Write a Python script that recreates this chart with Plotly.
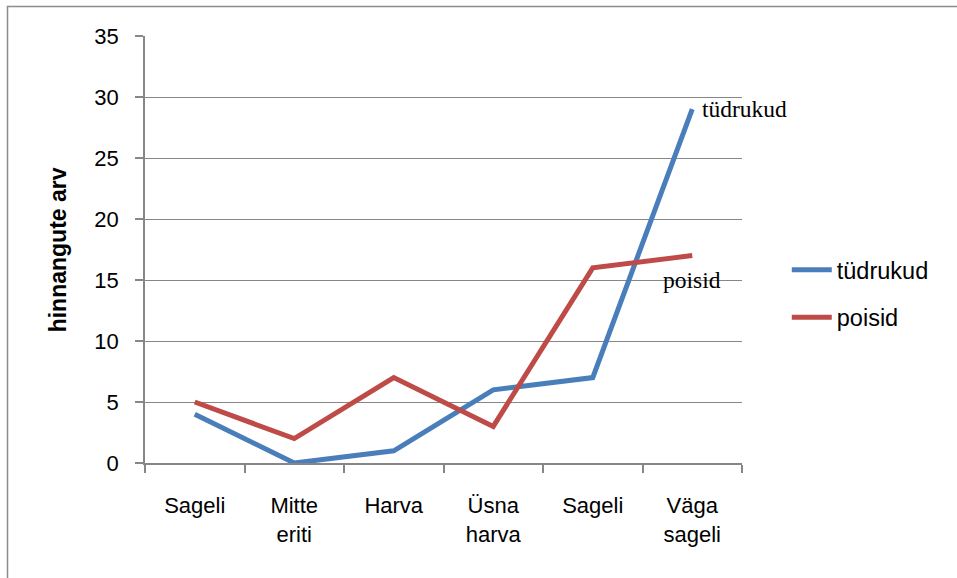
import plotly.graph_objects as go

categories = ["Sageli", "Mitte<br>eriti", "Harva", "Üsna<br>harva", "Sageli", "Väga<br>sageli"]
tudrukud = [4, 0, 1, 6, 7, 29]
poisid = [5, 2, 7, 3, 16, 17]
y_ticks = [0, 5, 10, 15, 20, 25, 30, 35]

x_pos = list(range(len(categories)))
BLUE = "#4A7EBB"
RED = "#BE4B48"
GRAY = "#878787"
FONT = "Liberation Sans"

fig = go.Figure()
fig.add_trace(go.Scatter(x=x_pos, y=tudrukud, mode="lines", name="tüdrukud", legendgroup="a",
                         line=dict(color=BLUE, width=5)))
fig.add_trace(go.Scatter(x=x_pos, y=poisid, mode="lines", name="poisid", legendgroup="b",
                         line=dict(color=RED, width=5)))

fig.update_layout(
    width=957, height=578,
    margin=dict(l=145, r=215, t=36, b=115),
    paper_bgcolor="white", plot_bgcolor="white",
    font=dict(family=FONT, size=22, color="black"),
    showlegend=True,
    legend=dict(x=1.075, y=0.396, xanchor="left", yanchor="middle",
                font=dict(family=FONT, size=23.5), tracegroupgap=14,
                itemwidth=40, bgcolor="rgba(0,0,0,0)"),
    xaxis=dict(range=[-0.5, 5.5], tickmode="array", tickvals=x_pos, ticktext=categories,
               ticks="", showgrid=False, showline=True, linecolor=GRAY, linewidth=1.5,
               zeroline=False, ticklabelstandoff=22,
               tickfont=dict(family=FONT, size=22),
               minor=dict(tickmode="array", tickvals=[i - 0.5 for i in range(len(categories) + 1)],
                          ticks="outside", ticklen=8, tickcolor=GRAY, tickwidth=1.5, showgrid=False)),
    yaxis=dict(range=[0, 35], tickmode="array", tickvals=y_ticks,
               ticks="outside", ticklen=8, tickcolor=GRAY, tickwidth=1.5,
               showgrid=True, gridcolor=GRAY, gridwidth=1,
               showline=True, linecolor=GRAY, linewidth=1.5, zeroline=False,
               ticklabelstandoff=12, tickfont=dict(family=FONT, size=22)),
)

fig.add_annotation(x=-0.146, y=0.5, xref="paper", yref="paper", text="<b>hinnangute arv</b>",
                   textangle=-90, showarrow=False, xanchor="center", yanchor="middle",
                   font=dict(family=FONT, size=23, color="black"))
fig.add_annotation(x=x_pos[5], y=tudrukud[5], text="tüdrukud", showarrow=False,
                   xanchor="left", yanchor="middle", xshift=8,
                   font=dict(family="Liberation Serif", size=23.5, color="black"))
fig.add_annotation(x=x_pos[5], y=15, text="poisid", showarrow=False,
                   xanchor="center", yanchor="middle",
                   font=dict(family="Liberation Serif", size=23.5, color="black"))

fig.add_shape(type="rect", xref="paper", yref="paper",
              x0=(7.5 - 145) / 597, x1=1.5, y0=-0.5, y1=(463 - 6.5) / 427,
              line=dict(color="#8C8C8C", width=1.5), fillcolor="rgba(0,0,0,0)", layer="below")

fig.write_html("out.html", config={"displayModeBar": False},
               post_script="document.body.style.margin='0';document.body.style.padding='0';")
